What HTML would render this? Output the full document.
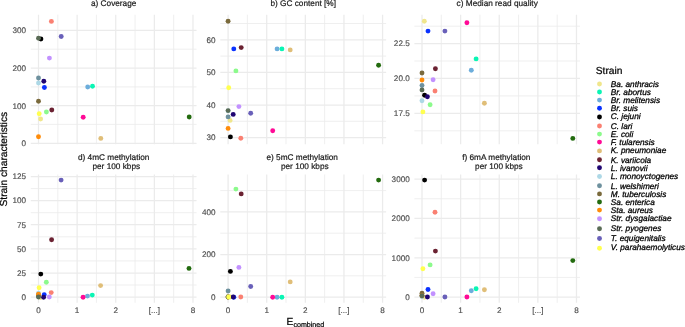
<!DOCTYPE html>
<html lang="en">
<head>
<meta charset="utf-8">
<title>Strain characteristics vs. E combined</title>
<style>
html,body{margin:0;padding:0;background:#fff;}
body{width:685px;height:327px;overflow:hidden;}
svg{display:block;font-family:"Liberation Sans",Arial,Helvetica,sans-serif;text-rendering:geometricPrecision;}
.tk{font-size:8.15px;fill:#4D4D4D;stroke:#4D4D4D;stroke-width:0.15px;}
.st{font-size:8.25px;fill:#1A1A1A;stroke:#1A1A1A;stroke-width:0.2px;text-anchor:middle;}
.ax{font-size:10.20px;fill:#000;stroke:#000;stroke-width:0.22px;}
.lg{font-size:8.26px;fill:#000;stroke:#000;stroke-width:0.27px;font-style:italic;}
.gM{stroke:#EBEBEB;stroke-width:1.25;fill:none;}
.gm{stroke:#EBEBEB;stroke-width:0.8;fill:none;}
</style>
</head>
<body>
<svg width="685" height="327" viewBox="0 0 685 327">
<rect x="0" y="0" width="685" height="327" fill="#FFFFFF"/>
<g id="panel-a">
<path class="gm" d="M30.80 49.20H196.55M30.80 86.90H196.55M30.80 124.40H196.55M57.81 14.70V144.20M96.43 14.70V144.20M135.05 14.70V144.20M173.67 14.70V144.20"/>
<path class="gM" d="M30.80 30.30H196.55M30.80 68.20H196.55M30.80 105.70H196.55M30.80 143.30H196.55M38.50 14.70V144.20M77.12 14.70V144.20M115.74 14.70V144.20M154.36 14.70V144.20M192.98 14.70V144.20"/>
<circle cx="40.6" cy="119.0" r="2.45" fill="#F0E68C"/>
<circle cx="87.7" cy="87.0" r="2.45" fill="#6CADDB"/>
<circle cx="92.5" cy="86.2" r="2.45" fill="#0AF5B4"/>
<circle cx="44.4" cy="87.5" r="2.45" fill="#0A32FF"/>
<circle cx="40.9" cy="39.0" r="2.45" fill="#000000"/>
<circle cx="51.4" cy="21.4" r="2.45" fill="#FA8072"/>
<circle cx="46.4" cy="112.0" r="2.45" fill="#8CFA8C"/>
<circle cx="83.2" cy="117.2" r="2.45" fill="#FF0A96"/>
<circle cx="100.8" cy="138.4" r="2.45" fill="#E0BE78"/>
<circle cx="51.8" cy="110.0" r="2.45" fill="#6B2232"/>
<circle cx="43.8" cy="81.2" r="2.45" fill="#200672"/>
<circle cx="38.5" cy="83.0" r="2.45" fill="#ADD8E6"/>
<circle cx="38.5" cy="78.0" r="2.45" fill="#6E919E"/>
<circle cx="38.5" cy="101.2" r="2.45" fill="#7A6A3C"/>
<circle cx="189.2" cy="117.0" r="2.45" fill="#236B0F"/>
<circle cx="38.5" cy="136.7" r="2.45" fill="#FF8C0A"/>
<circle cx="49.4" cy="58.1" r="2.45" fill="#C291FF"/>
<circle cx="38.5" cy="38.2" r="2.45" fill="#5A6C56"/>
<circle cx="61.2" cy="36.5" r="2.45" fill="#6960B9"/>
<circle cx="39.2" cy="113.7" r="2.45" fill="#FFFF50"/>
<text class="tk" text-anchor="end" x="26.1" y="33.1">300</text>
<text class="tk" text-anchor="end" x="26.1" y="71.0">200</text>
<text class="tk" text-anchor="end" x="26.1" y="108.5">100</text>
<text class="tk" text-anchor="end" x="26.1" y="146.2">0</text>
<text class="st" x="113.7" y="6.0">a) Coverage</text>
</g>
<g id="panel-b">
<path class="gm" d="M220.30 23.50H386.15M220.30 56.10H386.15M220.30 88.70H386.15M220.30 121.30H386.15M247.41 14.70V144.20M286.03 14.70V144.20M324.65 14.70V144.20M363.27 14.70V144.20"/>
<path class="gM" d="M220.30 39.80H386.15M220.30 72.40H386.15M220.30 105.00H386.15M220.30 137.60H386.15M228.10 14.70V144.20M266.72 14.70V144.20M305.34 14.70V144.20M343.96 14.70V144.20M382.58 14.70V144.20"/>
<circle cx="230.1" cy="120.4" r="2.45" fill="#F0E68C"/>
<circle cx="277.1" cy="48.9" r="2.45" fill="#6CADDB"/>
<circle cx="281.9" cy="48.9" r="2.45" fill="#0AF5B4"/>
<circle cx="233.8" cy="48.9" r="2.45" fill="#0A32FF"/>
<circle cx="230.4" cy="136.9" r="2.45" fill="#000000"/>
<circle cx="240.8" cy="138.2" r="2.45" fill="#FA8072"/>
<circle cx="235.9" cy="70.9" r="2.45" fill="#8CFA8C"/>
<circle cx="272.7" cy="130.7" r="2.45" fill="#FF0A96"/>
<circle cx="290.2" cy="49.9" r="2.45" fill="#E0BE78"/>
<circle cx="241.2" cy="47.6" r="2.45" fill="#6B2232"/>
<circle cx="233.2" cy="114.4" r="2.45" fill="#200672"/>
<circle cx="228.1" cy="110.9" r="2.45" fill="#ADD8E6"/>
<circle cx="228.1" cy="116.9" r="2.45" fill="#6E919E"/>
<circle cx="228.1" cy="21.3" r="2.45" fill="#7A6A3C"/>
<circle cx="378.6" cy="65.2" r="2.45" fill="#236B0F"/>
<circle cx="228.1" cy="128.4" r="2.45" fill="#FF8C0A"/>
<circle cx="238.9" cy="106.6" r="2.45" fill="#C291FF"/>
<circle cx="228.1" cy="110.6" r="2.45" fill="#5A6C56"/>
<circle cx="250.7" cy="113.3" r="2.45" fill="#6960B9"/>
<circle cx="228.7" cy="87.7" r="2.45" fill="#FFFF50"/>
<text class="tk" text-anchor="end" x="215.6" y="42.6">60</text>
<text class="tk" text-anchor="end" x="215.6" y="75.2">50</text>
<text class="tk" text-anchor="end" x="215.6" y="107.8">40</text>
<text class="tk" text-anchor="end" x="215.6" y="140.4">30</text>
<text class="st" x="303.2" y="6.0">b) GC content [%]</text>
</g>
<g id="panel-c">
<path class="gm" d="M414.40 26.20H580.00M414.40 61.00H580.00M414.40 95.90H580.00M414.40 130.80H580.00M441.31 14.70V144.20M479.93 14.70V144.20M518.55 14.70V144.20M557.17 14.70V144.20"/>
<path class="gM" d="M414.40 43.50H580.00M414.40 78.45H580.00M414.40 113.35H580.00M422.00 14.70V144.20M460.62 14.70V144.20M499.24 14.70V144.20M537.86 14.70V144.20M576.48 14.70V144.20"/>
<circle cx="424.3" cy="21.3" r="2.45" fill="#F0E68C"/>
<circle cx="471.3" cy="70.2" r="2.45" fill="#6CADDB"/>
<circle cx="476.1" cy="58.9" r="2.45" fill="#0AF5B4"/>
<circle cx="428.0" cy="31.1" r="2.45" fill="#0A32FF"/>
<circle cx="424.6" cy="95.3" r="2.45" fill="#000000"/>
<circle cx="435.0" cy="91.0" r="2.45" fill="#FA8072"/>
<circle cx="430.1" cy="104.8" r="2.45" fill="#8CFA8C"/>
<circle cx="466.9" cy="22.7" r="2.45" fill="#FF0A96"/>
<circle cx="484.4" cy="103.3" r="2.45" fill="#E0BE78"/>
<circle cx="435.4" cy="68.7" r="2.45" fill="#6B2232"/>
<circle cx="427.4" cy="96.7" r="2.45" fill="#200672"/>
<circle cx="422.0" cy="100.8" r="2.45" fill="#ADD8E6"/>
<circle cx="422.0" cy="85.5" r="2.45" fill="#6E919E"/>
<circle cx="422.0" cy="73.0" r="2.45" fill="#7A6A3C"/>
<circle cx="572.8" cy="138.4" r="2.45" fill="#236B0F"/>
<circle cx="422.0" cy="80.0" r="2.45" fill="#FF8C0A"/>
<circle cx="433.1" cy="79.8" r="2.45" fill="#C291FF"/>
<circle cx="422.0" cy="89.9" r="2.45" fill="#5A6C56"/>
<circle cx="444.9" cy="31.1" r="2.45" fill="#6960B9"/>
<circle cx="422.9" cy="111.9" r="2.45" fill="#FFFF50"/>
<text class="tk" text-anchor="end" x="409.7" y="46.4">22.5</text>
<text class="tk" text-anchor="end" x="409.7" y="81.3">20.0</text>
<text class="tk" text-anchor="end" x="409.7" y="116.2">17.5</text>
<text class="st" x="497.2" y="6.0">c) Median read quality</text>
</g>
<g id="panel-d">
<path class="gm" d="M30.80 188.55H196.55M30.80 212.70H196.55M30.80 236.80H196.55M30.80 260.90H196.55M30.80 285.00H196.55M57.81 174.50V302.80M96.43 174.50V302.80M135.05 174.50V302.80M173.67 174.50V302.80"/>
<path class="gM" d="M30.80 176.50H196.55M30.80 200.60H196.55M30.80 224.70H196.55M30.80 248.90H196.55M30.80 273.00H196.55M30.80 297.10H196.55M38.50 174.50V302.80M77.12 174.50V302.80M115.74 174.50V302.80M154.36 174.50V302.80M192.98 174.50V302.80"/>
<circle cx="40.5" cy="297.5" r="2.45" fill="#F0E68C"/>
<circle cx="87.5" cy="296.1" r="2.45" fill="#6CADDB"/>
<circle cx="92.3" cy="295.1" r="2.45" fill="#0AF5B4"/>
<circle cx="44.2" cy="294.8" r="2.45" fill="#0A32FF"/>
<circle cx="40.8" cy="274.1" r="2.45" fill="#000000"/>
<circle cx="51.2" cy="292.6" r="2.45" fill="#FA8072"/>
<circle cx="46.3" cy="282.3" r="2.45" fill="#8CFA8C"/>
<circle cx="83.1" cy="297.3" r="2.45" fill="#FF0A96"/>
<circle cx="100.6" cy="285.6" r="2.45" fill="#E0BE78"/>
<circle cx="51.6" cy="239.7" r="2.45" fill="#6B2232"/>
<circle cx="43.6" cy="297.3" r="2.45" fill="#200672"/>
<circle cx="38.5" cy="293.3" r="2.45" fill="#ADD8E6"/>
<circle cx="38.5" cy="296.3" r="2.45" fill="#6E919E"/>
<circle cx="38.5" cy="295.3" r="2.45" fill="#7A6A3C"/>
<circle cx="189.0" cy="268.4" r="2.45" fill="#236B0F"/>
<circle cx="38.5" cy="294.3" r="2.45" fill="#FF8C0A"/>
<circle cx="49.3" cy="297.0" r="2.45" fill="#C291FF"/>
<circle cx="38.5" cy="297.0" r="2.45" fill="#5A6C56"/>
<circle cx="61.1" cy="180.1" r="2.45" fill="#6960B9"/>
<circle cx="39.1" cy="287.7" r="2.45" fill="#FFFF50"/>
<text class="tk" text-anchor="end" x="26.1" y="179.3">125</text>
<text class="tk" text-anchor="end" x="26.1" y="203.4">100</text>
<text class="tk" text-anchor="end" x="26.1" y="227.5">75</text>
<text class="tk" text-anchor="end" x="26.1" y="251.7">50</text>
<text class="tk" text-anchor="end" x="26.1" y="275.8">25</text>
<text class="tk" text-anchor="end" x="26.1" y="299.9">0</text>
<text class="st" x="113.7" y="160.0">d) 4mC methylation</text>
<text class="st" x="116.3" y="168.9">per 100 kbps</text>
<text class="tk" text-anchor="middle" x="38.5" y="313.1">0</text>
<text class="tk" text-anchor="middle" x="77.1" y="313.1">1</text>
<text class="tk" text-anchor="middle" x="115.7" y="313.1">2</text>
<text class="tk" text-anchor="middle" x="154.4" y="313.1">[...]</text>
<text class="tk" text-anchor="middle" x="193.0" y="313.1">8</text>
</g>
<g id="panel-e">
<path class="gm" d="M220.30 190.60H386.15M220.30 233.20H386.15M220.30 275.80H386.15M247.41 174.50V302.80M286.03 174.50V302.80M324.65 174.50V302.80M363.27 174.50V302.80"/>
<path class="gM" d="M220.30 211.90H386.15M220.30 254.50H386.15M220.30 297.10H386.15M228.10 174.50V302.80M266.72 174.50V302.80M305.34 174.50V302.80M343.96 174.50V302.80M382.58 174.50V302.80"/>
<circle cx="230.1" cy="297.0" r="2.45" fill="#F0E68C"/>
<circle cx="277.1" cy="297.2" r="2.45" fill="#6CADDB"/>
<circle cx="281.9" cy="297.2" r="2.45" fill="#0AF5B4"/>
<circle cx="233.8" cy="297.2" r="2.45" fill="#0A32FF"/>
<circle cx="230.4" cy="271.4" r="2.45" fill="#000000"/>
<circle cx="240.8" cy="297.0" r="2.45" fill="#FA8072"/>
<circle cx="235.9" cy="189.1" r="2.45" fill="#8CFA8C"/>
<circle cx="272.7" cy="297.2" r="2.45" fill="#FF0A96"/>
<circle cx="290.2" cy="281.9" r="2.45" fill="#E0BE78"/>
<circle cx="241.2" cy="193.9" r="2.45" fill="#6B2232"/>
<circle cx="233.2" cy="297.0" r="2.45" fill="#200672"/>
<circle cx="228.1" cy="297.0" r="2.45" fill="#ADD8E6"/>
<circle cx="228.1" cy="291.0" r="2.45" fill="#6E919E"/>
<circle cx="228.1" cy="297.0" r="2.45" fill="#7A6A3C"/>
<circle cx="378.6" cy="180.1" r="2.45" fill="#236B0F"/>
<circle cx="228.1" cy="297.0" r="2.45" fill="#FF8C0A"/>
<circle cx="238.9" cy="267.4" r="2.45" fill="#C291FF"/>
<circle cx="228.1" cy="297.0" r="2.45" fill="#5A6C56"/>
<circle cx="250.7" cy="286.5" r="2.45" fill="#6960B9"/>
<circle cx="228.7" cy="297.0" r="2.45" fill="#FFFF50"/>
<text class="tk" text-anchor="end" x="215.6" y="214.7">400</text>
<text class="tk" text-anchor="end" x="215.6" y="257.3">200</text>
<text class="tk" text-anchor="end" x="215.6" y="299.9">0</text>
<text class="st" x="302.2" y="160.0">e) 5mC methylation</text>
<text class="st" x="304.8" y="168.9">per 100 kbps</text>
<text class="tk" text-anchor="middle" x="228.1" y="313.1">0</text>
<text class="tk" text-anchor="middle" x="266.7" y="313.1">1</text>
<text class="tk" text-anchor="middle" x="305.3" y="313.1">2</text>
<text class="tk" text-anchor="middle" x="344.0" y="313.1">[...]</text>
<text class="tk" text-anchor="middle" x="382.6" y="313.1">8</text>
</g>
<g id="panel-f">
<path class="gm" d="M414.40 198.77H580.00M414.40 238.10H580.00M414.40 277.43H580.00M441.31 174.50V302.80M479.93 174.50V302.80M518.55 174.50V302.80M557.17 174.50V302.80"/>
<path class="gM" d="M414.40 179.10H580.00M414.40 218.43H580.00M414.40 257.77H580.00M414.40 297.10H580.00M422.00 174.50V302.80M460.62 174.50V302.80M499.24 174.50V302.80M537.86 174.50V302.80M576.48 174.50V302.80"/>
<circle cx="424.3" cy="297.3" r="2.45" fill="#F0E68C"/>
<circle cx="471.3" cy="290.7" r="2.45" fill="#6CADDB"/>
<circle cx="476.1" cy="288.7" r="2.45" fill="#0AF5B4"/>
<circle cx="428.0" cy="289.5" r="2.45" fill="#0A32FF"/>
<circle cx="424.6" cy="180.1" r="2.45" fill="#000000"/>
<circle cx="435.0" cy="212.2" r="2.45" fill="#FA8072"/>
<circle cx="430.1" cy="264.9" r="2.45" fill="#8CFA8C"/>
<circle cx="466.9" cy="297.0" r="2.45" fill="#FF0A96"/>
<circle cx="484.4" cy="289.7" r="2.45" fill="#E0BE78"/>
<circle cx="435.4" cy="251.1" r="2.45" fill="#6B2232"/>
<circle cx="427.4" cy="297.0" r="2.45" fill="#200672"/>
<circle cx="422.0" cy="296.8" r="2.45" fill="#ADD8E6"/>
<circle cx="422.0" cy="295.7" r="2.45" fill="#6E919E"/>
<circle cx="422.0" cy="293.2" r="2.45" fill="#7A6A3C"/>
<circle cx="572.8" cy="260.6" r="2.45" fill="#236B0F"/>
<circle cx="422.0" cy="295.7" r="2.45" fill="#FF8C0A"/>
<circle cx="433.1" cy="293.7" r="2.45" fill="#C291FF"/>
<circle cx="422.0" cy="295.7" r="2.45" fill="#5A6C56"/>
<circle cx="444.9" cy="297.0" r="2.45" fill="#6960B9"/>
<circle cx="422.9" cy="268.7" r="2.45" fill="#FFFF50"/>
<text class="tk" text-anchor="end" x="409.7" y="181.9">3000</text>
<text class="tk" text-anchor="end" x="409.7" y="221.2">2000</text>
<text class="tk" text-anchor="end" x="409.7" y="260.6">1000</text>
<text class="tk" text-anchor="end" x="409.7" y="299.9">0</text>
<text class="st" x="496.3" y="160.0">f) 6mA methylation</text>
<text class="st" x="498.9" y="168.9">per 100 kbps</text>
<text class="tk" text-anchor="middle" x="422.0" y="313.1">0</text>
<text class="tk" text-anchor="middle" x="460.6" y="313.1">1</text>
<text class="tk" text-anchor="middle" x="499.2" y="313.1">2</text>
<text class="tk" text-anchor="middle" x="537.9" y="313.1">[...]</text>
<text class="tk" text-anchor="middle" x="576.5" y="313.1">8</text>
</g>
<text class="ax" text-anchor="middle" transform="translate(7.3 159.2) rotate(-90)">Strain characteristics</text>
<text class="ax" x="286.6" y="324.9">E<tspan dy="2.2" font-size="7.1px">combined</tspan></text>
<g id="legend">
<text class="ax" x="595.8" y="74.1">Strain</text>
<circle cx="599.5" cy="84.0" r="2.45" fill="#F0E68C"/><text class="lg" x="610.8" y="86.8">Ba. anthracis</text>
<circle cx="599.5" cy="92.0" r="2.45" fill="#0AF5B4"/><text class="lg" x="610.8" y="94.8">Br. abortus</text>
<circle cx="599.5" cy="100.1" r="2.45" fill="#6CADDB"/><text class="lg" x="610.8" y="102.9">Br. melitensis</text>
<circle cx="599.5" cy="108.3" r="2.45" fill="#0A32FF"/><text class="lg" x="610.8" y="111.1">Br. suis</text>
<circle cx="599.5" cy="117.0" r="2.45" fill="#000000"/><text class="lg" x="610.8" y="119.1">C. jejuni</text>
<circle cx="599.5" cy="126.0" r="2.45" fill="#FA8072"/><text class="lg" x="610.8" y="128.8">C. lari</text>
<circle cx="599.5" cy="134.1" r="2.45" fill="#8CFA8C"/><text class="lg" x="610.8" y="136.9">E. coli</text>
<circle cx="599.5" cy="142.1" r="2.45" fill="#FF0A96"/><text class="lg" x="610.8" y="144.9">F. tularensis</text>
<circle cx="599.5" cy="150.9" r="2.45" fill="#E0BE78"/><text class="lg" x="610.8" y="153.0">K. pneumoniae</text>
<circle cx="599.5" cy="159.7" r="2.45" fill="#6B2232"/><text class="lg" x="610.8" y="162.5">K. variicola</text>
<circle cx="599.5" cy="167.7" r="2.45" fill="#200672"/><text class="lg" x="610.8" y="170.5">L. ivanovii</text>
<circle cx="599.5" cy="176.5" r="2.45" fill="#ADD8E6"/><text class="lg" x="610.8" y="178.6">L. monoyctogenes</text>
<circle cx="599.5" cy="185.7" r="2.45" fill="#6E919E"/><text class="lg" x="610.8" y="188.5">L. welshimeri</text>
<circle cx="599.5" cy="193.9" r="2.45" fill="#7A6A3C"/><text class="lg" x="610.8" y="196.7">M. tuberculosis</text>
<circle cx="599.5" cy="202.0" r="2.45" fill="#236B0F"/><text class="lg" x="610.8" y="204.8">Sa. enterica</text>
<circle cx="599.5" cy="210.1" r="2.45" fill="#FF8C0A"/><text class="lg" x="610.8" y="212.9">Sta. aureus</text>
<circle cx="599.5" cy="218.7" r="2.45" fill="#C291FF"/><text class="lg" x="610.8" y="220.8">Str. dysgalactiae</text>
<circle cx="599.5" cy="228.7" r="2.45" fill="#5A6C56"/><text class="lg" x="610.8" y="230.8">Str. pyogenes</text>
<circle cx="599.5" cy="238.5" r="2.45" fill="#6960B9"/><text class="lg" x="610.8" y="240.6">T. equigenitalis</text>
<circle cx="599.5" cy="248.2" r="2.45" fill="#FFFF50"/><text class="lg" x="610.8" y="250.3">V. parahaemolyticus</text>
</g>
</svg>
</body>
</html>
